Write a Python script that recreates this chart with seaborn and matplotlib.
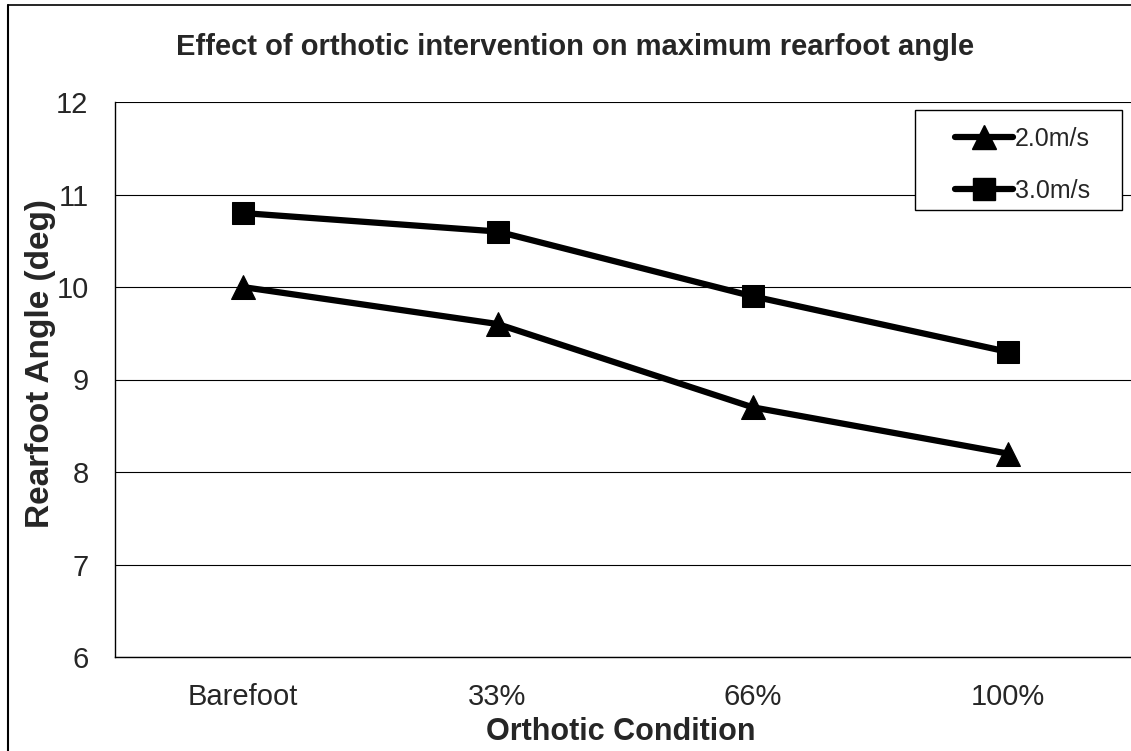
import matplotlib
matplotlib.use("Agg")
import matplotlib.pyplot as plt
from matplotlib.lines import Line2D
from matplotlib.patches import Rectangle
from matplotlib.ticker import FixedLocator
import seaborn as sns
import pandas as pd

# Mean maximum rearfoot angle (deg) per orthotic condition and running speed
conditions = ["Barefoot", "33%", "66%", "100%"]
speeds = ["2.0m/s", "3.0m/s"]
angle_2ms = [10.0, 9.6, 8.7, 8.2]
angle_3ms = [10.8, 10.6, 9.9, 9.3]
y_ticks = [6, 7, 8, 9, 10, 11, 12]

df = pd.DataFrame({
    "pos": list(range(len(conditions))) * 2,
    "Speed": [speeds[0]] * 4 + [speeds[1]] * 4,
    "Angle": angle_2ms + angle_3ms,
})

sns.set_theme(style="white")
plt.rcParams["font.family"] = ["Liberation Sans", "DejaVu Sans"]

W, H = 1131, 751
fig = plt.figure(figsize=(W / 100, H / 100), dpi=100)
ax = fig.add_axes([115 / W, 1 - 657 / H, 1020 / W, 555 / H])

LW = 4.5
markers = {speeds[0]: "^", speeds[1]: "s"}
sizes = {speeds[0]: 17, speeds[1]: 16.5}
for sp in speeds:
    sns.lineplot(
        data=df[df["Speed"] == sp], x="pos", y="Angle",
        color="black", marker=markers[sp], markersize=sizes[sp],
        markeredgecolor="black", linewidth=LW, ax=ax, legend=False,
    )

ax.set_xlim(-0.5, len(conditions) - 0.5)
ax.set_ylim(6, 12)
ax.set_yticks(y_ticks)
ax.set_yticklabels([str(v) for v in y_ticks], fontsize=21)
ax.set_xticks(range(len(conditions)))
ax.set_xticklabels(conditions, fontsize=21)
ax.xaxis.set_minor_locator(FixedLocator([0.5, 1.5, 2.5]))
ax.tick_params(axis="x", which="major", length=0, pad=19)
ax.tick_params(axis="x", which="minor", length=6, width=1, color="black", direction="out")
ax.tick_params(axis="y", which="major", length=6, width=1, color="black", direction="out", pad=13)

ax.grid(axis="y", color="black", linewidth=0.8)
ax.set_axisbelow(True)
for s in ["top", "right"]:
    ax.spines[s].set_visible(False)
for s in ["left", "bottom"]:
    ax.spines[s].set_color("black")
    ax.spines[s].set_linewidth(1.0)

ax.set_xlabel("Orthotic Condition", fontsize=22, fontweight="bold")
ax.xaxis.set_label_coords((621 - 115) / 1020, -(717 - 657) / 555)
ax.set_ylabel("Rearfoot Angle (deg)", fontsize=24, fontweight="bold")
ax.yaxis.set_label_coords((56 - 115) / 1020, (657 - 364) / 555)

fig.text(575 / W, 1 - 47 / H, "Effect of orthotic intervention on maximum rearfoot angle",
         fontsize=21, fontweight="bold", ha="center", va="center")

# Legend
handles = [
    Line2D([], [], color="black", lw=LW, marker="^", markersize=17),
    Line2D([], [], color="black", lw=LW, marker="s", markersize=16.5),
]
fig.add_artist(Rectangle((915 / W, 1 - 210 / H), 207 / W, 100 / H, transform=fig.transFigure,
                         facecolor="white", edgecolor="black", lw=1.0, zorder=5))
leg = fig.legend(handles, speeds, loc="upper left",
                 bbox_to_anchor=(955 / W, 1 - 127 / H),
                 fontsize=18, frameon=False,
                 handlelength=2.3, handletextpad=0.1, labelspacing=1.1,
                 borderpad=0, borderaxespad=0)
leg.set_zorder(6)

# Outer chart border (left and top edges)
fig.add_artist(Line2D([8 / W, 8 / W], [0, 1 - 5 / H], transform=fig.transFigure,
                      color="black", lw=1.5))
fig.add_artist(Line2D([8 / W, 1], [1 - 5 / H, 1 - 5 / H], transform=fig.transFigure,
                      color="black", lw=1.2))

fig.savefig("out.png", dpi=100, facecolor="white")
